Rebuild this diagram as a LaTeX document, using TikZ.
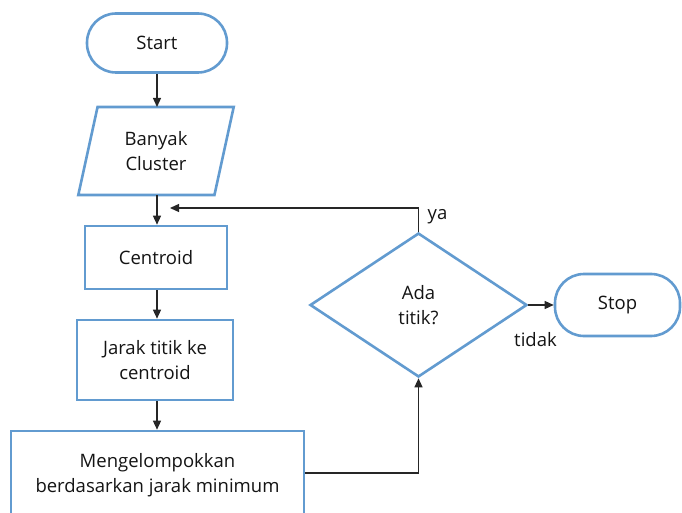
\documentclass[tikz,border=0pt]{standalone}
\usepackage{fontspec}
\setmainfont{Open Sans}
\usetikzlibrary{shapes.geometric,arrows.meta}
\definecolor{bordblue}{RGB}{98,155,208}
\definecolor{txt}{RGB}{20,20,20}
\begin{document}
\begin{tikzpicture}[x=1pt,y=-1pt,
  every node/.style={text=txt,font=\fontsize{18.5}{24.5}\selectfont,align=center,inner sep=0pt},
  box/.style={draw=bordblue,line width=2.6pt,fill=white},
  term/.style={box,rounded corners=29pt},
  conn/.style={line width=1.3pt,draw=black!85,-{Triangle[length=9pt,width=8pt]}},
  plain/.style={line width=1.3pt,draw=black!85}]
\useasboundingbox (0,0) rectangle (682,513);
\begin{scope}
\clip (0,0) rectangle (682,513);
\node[term,minimum width=140pt,minimum height=59pt] (start) at (157,43) {Start};
\node[box,trapezium,trapezium left angle=75,trapezium right angle=105,trapezium stretches=true,minimum width=156pt,minimum height=88pt] (banyak) at (156,151) {Banyak\\Cluster};
\node[box,minimum width=142pt,minimum height=63pt] (centroid) at (156,257.5) {Centroid};
\node[box,minimum width=156pt,minimum height=80pt] (jarak) at (155,360) {Jarak titik ke\\centroid};
\node[box,minimum width=293pt,minimum height=88pt] (kelompok) at (157.5,475) {Mengelompokkan\\berdasarkan jarak minimum};
\node[box,diamond,minimum width=217pt,minimum height=144pt] (ada) at (418.5,305) {Ada\\titik?};
\node[term,minimum width=125pt,minimum height=62pt] (stop) at (617.5,305) {Stop};
\coordinate (loopin) at (170,208);
\coordinate (looptop) at (418.5,208);
\draw[conn] (start.south -| 157,0) -- (157,107);
\draw[conn] (157,195) -- (centroid.north -| 157,0);
\draw[conn] (centroid.south -| 157,0) -- (jarak.north -| 157,0);
\draw[conn] (jarak.south -| 157,0) -- (kelompok.north -| 157,0);
\draw[conn] (kelompok.east |- 0,473) -| (ada.south);
\draw[conn] (ada.north) -- (looptop) -- (loopin);
\draw[conn] (ada.east) -- (stop.west);
\node (ya) at (437.5,217) {ya};
\node (tidak) at (535.5,340) {tidak};
\end{scope}
\end{tikzpicture}
\end{document}
